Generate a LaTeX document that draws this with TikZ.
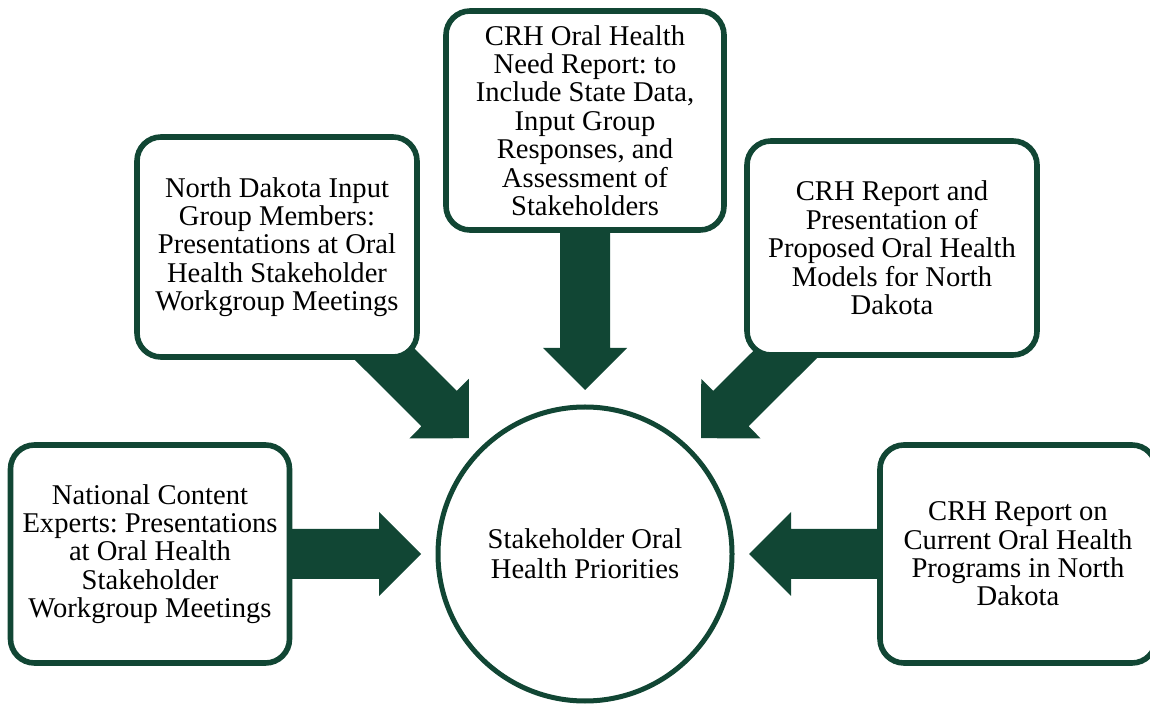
\documentclass[tikz,border=0pt]{standalone}
\usepackage{fontspec}
\setmainfont{Liberation Serif}
\usepackage{xcolor}
\usepackage{tikz}
\usetikzlibrary{calc, backgrounds}
\definecolor{ndgreen}{RGB}{17,70,52}
\frenchspacing

\newcommand{\blockarrow}[2]{%
  \coordinate (tip) at ($(#2.center)!82pt!(#1.center)$);
  \coordinate (neck) at ($(tip)!21pt!(#1.center)$);
  \fill[ndgreen] ($(#1.center)!12.5pt!90:(tip)$) -- ($(neck)!12.5pt!90:(tip)$)
    -- ($(neck)!21pt!90:(tip)$) -- (tip) -- ($(neck)!21pt!-90:(tip)$)
    -- ($(neck)!12.5pt!-90:(tip)$) -- ($(#1.center)!12.5pt!-90:(tip)$) -- cycle;
}

\begin{document}
\begin{tikzpicture}[x=0.5pt, y=-0.5pt,
  box/.style={draw=ndgreen, line width=2.8pt, rounded corners=12pt, fill=white,
    minimum width=140pt, minimum height=109pt, align=center, inner sep=0pt,
    font=\fontsize{14.3}{14.2}\selectfont},
  hubcircle/.style={circle, draw=ndgreen, line width=2.5pt, fill=white,
    minimum size=147pt, align=center, inner sep=0pt,
    font=\fontsize{14.3}{15}\selectfont}]
  \useasboundingbox (0,0) rectangle (1150,704);

  \node[hubcircle] (hub) at (585,554) {Stakeholder Oral\\Health Priorities};

  \node[box, minimum width=139.5pt] (left) at (150,554)
    {National Content\\Experts: Presentations\\at Oral Health\\Stakeholder\\Workgroup Meetings};
  \node[box, minimum height=110pt] (upleft) at (277,247)
    {North Dakota Input\\Group Members:\\Presentations at Oral\\Health Stakeholder\\Workgroup Meetings};
  \node[box, minimum width=139pt, minimum height=109.5pt] (top) at (585,120.5)
    {CRH Oral Health\\Need Report: to\\Include State Data,\\Input Group\\Responses, and\\Assessment of\\Stakeholders};
  \node[box, minimum width=145pt, minimum height=107pt] (upright) at (892,248)
    {CRH Report and\\Presentation of\\Proposed Oral Health\\Models for North\\Dakota};
  \node[box, minimum width=138pt] (right) at (1018,554)
    {CRH Report on\\Current Oral Health\\Programs in North\\Dakota};

  \begin{scope}[on background layer]
    \foreach \b in {left, upleft, top, upright, right}
      \blockarrow{\b}{hub};
  \end{scope}
\end{tikzpicture}
\end{document}
